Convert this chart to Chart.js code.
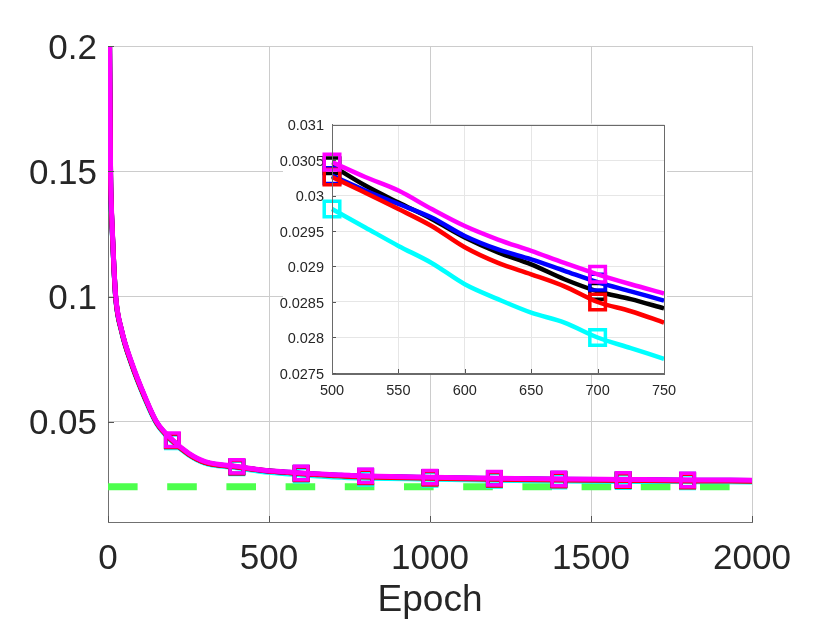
<!DOCTYPE html>
<html>
<head>
<meta charset="utf-8">
<script src="https://cdn.jsdelivr.net/npm/chart.js@4/dist/chart.umd.min.js"></script>
<style>
  html, body { margin: 0; padding: 0; background: #fff; }
  #wrap { position: relative; width: 830px; height: 623px; }
  #main { position: absolute; left: 0; top: 0; }
  #inset { position: absolute; left: 270px; top: 110px; }
</style>
</head>
<body>
<div id="wrap">
  <canvas id="main" width="830" height="623"></canvas>
  <canvas id="inset" width="410" height="295"></canvas>
</div>
<script>
const epochs = [0, 5, 8, 10, 13, 18, 24, 42, 74, 115, 151, 200, 250, 300, 400, 500, 525, 550, 575, 600, 625, 650, 675, 700, 725, 750, 800, 1000, 1200, 1400, 1600, 1800, 2000];

const magentaLoss = [0.26, 0.2, 0.15, 0.138, 0.128, 0.113, 0.1, 0.0868, 0.0735, 0.06, 0.05, 0.0428, 0.0375, 0.0342, 0.0322, 0.03047, 0.03026, 0.03007, 0.02981, 0.02957, 0.02938, 0.02922, 0.02905, 0.02889, 0.02875, 0.02862, 0.0284, 0.0279, 0.0275, 0.0272, 0.027, 0.0268, 0.0267];
const blueLoss    = [0.26, 0.199, 0.149, 0.137, 0.127, 0.1125, 0.0995, 0.0865, 0.073, 0.0596, 0.0497, 0.0425, 0.0372, 0.0339, 0.032, 0.03028, 0.03007, 0.02988, 0.02969, 0.02943, 0.02924, 0.0291, 0.02894, 0.02878, 0.02865, 0.02852, 0.0283, 0.0278, 0.0274, 0.0271, 0.0269, 0.0267, 0.0266];
const blackLoss   = [0.26, 0.199, 0.149, 0.137, 0.127, 0.1125, 0.0995, 0.0865, 0.073, 0.0596, 0.0497, 0.0425, 0.0372, 0.0339, 0.032, 0.03042, 0.03014, 0.0299, 0.02967, 0.02941, 0.0292, 0.02903, 0.02882, 0.02865, 0.02854, 0.02841, 0.0282, 0.0277, 0.0273, 0.027, 0.0268, 0.0266, 0.0265];
const redLoss     = [0.26, 0.199, 0.149, 0.137, 0.127, 0.1125, 0.0995, 0.0864, 0.0729, 0.0595, 0.0496, 0.0424, 0.0371, 0.0338, 0.0319, 0.03026, 0.03004, 0.02981, 0.02957, 0.02927, 0.02905, 0.02889, 0.02872, 0.0285, 0.02837, 0.02821, 0.028, 0.0275, 0.0271, 0.0268, 0.0266, 0.0264, 0.0263];
const cyanLoss    = [0.26, 0.198, 0.148, 0.136, 0.126, 0.112, 0.099, 0.086, 0.0725, 0.059, 0.0492, 0.042, 0.0368, 0.0335, 0.0316, 0.02981, 0.02955, 0.02929, 0.02905, 0.02875, 0.02854, 0.02835, 0.02821, 0.028, 0.02785, 0.0277, 0.0275, 0.0271, 0.0267, 0.0264, 0.0262, 0.0261, 0.026];

const targetLoss = 0.0241;          // green dashed reference level
const mainMarkers = [200, 400, 600, 800, 1000, 1200, 1400, 1600, 1800];
const insetMarkers = [500, 700];

const mainXTicks = [0, 500, 1000, 1500, 2000];
const mainYTicks = [0.05, 0.1, 0.15, 0.2];
const insetXTicks = [500, 550, 600, 650, 700, 750];
const insetYTicks = [0.0275, 0.028, 0.0285, 0.029, 0.0295, 0.03, 0.0305, 0.031];

const series = [
  { color: '#ff00ff', vals: magentaLoss },
  { color: '#ff0000', vals: redLoss },
  { color: '#0000ff', vals: blueLoss },
  { color: '#000000', vals: blackLoss },
  { color: '#00ffff', vals: cyanLoss }
];

const FONT = '"Liberation Sans", Arial, Helvetica, sans-serif';
const TXT = '#262626';

// small inward tick marks like matlab
const innerTicks = {
  id: 'innerTicks',
  afterDraw(chart, args, opts) {
    const { ctx, chartArea: a, scales } = chart;
    const len = opts.len || 6;
    ctx.save();
    ctx.strokeStyle = opts.color || '#555';
    ctx.lineWidth = 1;
    ctx.beginPath();
    scales.x.ticks.forEach(t => {
      const px = Math.round(scales.x.getPixelForValue(t.value)) + 0.5;
      ctx.moveTo(px, a.bottom); ctx.lineTo(px, a.bottom - len);
    });
    scales.y.ticks.forEach(t => {
      const py = Math.round(scales.y.getPixelForValue(t.value)) + 0.5;
      ctx.moveTo(a.left, py); ctx.lineTo(a.left + len, py);
    });
    ctx.stroke();
    if (opts.box) {
      ctx.strokeStyle = opts.box;
      ctx.strokeRect(Math.round(a.left) + 0.5, Math.round(a.top) + 0.5, Math.round(a.right - a.left), Math.round(a.bottom - a.top));
    }
    ctx.restore();
  }
};

// white panel behind the inset
const insetBg = {
  id: 'insetBg',
  beforeDraw(chart) {
    const { ctx, chartArea: a } = chart;
    ctx.save();
    ctx.fillStyle = '#fff';
    ctx.fillRect(13, a.top - 1, a.right + 3 - 13, a.bottom - a.top + 2);
    ctx.restore();
  }
};

function pts(vals, lo, hi) {
  const out = [];
  epochs.forEach((e, i) => { if (e >= lo && e <= hi) out.push({ x: e, y: vals[i] }); });
  return out;
}

// main chart
const mainSets = series.map(s => ({
  data: pts(s.vals, 0, 2000),
  borderColor: s.color,
  backgroundColor: 'transparent',
  borderWidth: 5,
  cubicInterpolationMode: 'monotone',
  pointStyle: 'rect',
  pointRadius: c => mainMarkers.includes(c.raw && c.raw.x) ? 9.5 : 0,
  pointBorderWidth: 3.5,
  pointBorderColor: s.color,
  pointBackgroundColor: 'transparent'
}));
mainSets.push({
  data: [{ x: 0, y: targetLoss }, { x: 2000, y: targetLoss }],
  borderColor: '#4dff4d',
  borderWidth: 7,
  borderDash: [29.6, 29.6],
  pointRadius: 0
});

new Chart(document.getElementById('main'), {
  type: 'line',
  data: { datasets: mainSets },
  options: {
    responsive: false,
    animation: false,
    events: [],
    layout: { padding: { top: 46, right: 78, left: 0, bottom: 0 } },
    plugins: { legend: { display: false }, tooltip: { enabled: false }, innerTicks: { len: 6, color: '#555' } },
    scales: {
      x: {
        type: 'linear', min: 0, max: 2000,
        afterBuildTicks: s => { s.ticks = mainXTicks.map(v => ({ value: v })); },
        afterFit: s => { s.height = 101; s.paddingLeft = 0; s.paddingRight = 0; },
        ticks: { callback: v => String(v), color: TXT, font: { family: FONT, size: 35 }, padding: 16, maxRotation: 0 },
        grid: { color: '#cccccc', drawTicks: false },
        border: { color: '#707070', width: 1 },
        title: { display: true, text: 'Epoch', color: TXT, font: { family: FONT, size: 37 }, padding: { top: 0, bottom: 0 } }
      },
      y: {
        type: 'linear', min: 0.01, max: 0.2,
        afterBuildTicks: s => { s.ticks = mainYTicks.map(v => ({ value: v })); },
        afterFit: s => { s.width = 108; s.paddingTop = 0; s.paddingBottom = 0; },
        ticks: { callback: v => String(v), color: TXT, font: { family: FONT, size: 35 }, padding: 11, labelOffset: 3 },
        grid: { color: '#cccccc', drawTicks: false },
        border: { color: '#707070', width: 1 }
      }
    }
  },
  plugins: [innerTicks]
});

// inset zoom 500-750
const insetSets = series.map(s => ({
  data: pts(s.vals, 500, 750),
  borderColor: s.color,
  backgroundColor: 'transparent',
  borderWidth: 4.5,
  cubicInterpolationMode: 'monotone',
  clip: false,
  pointStyle: 'rect',
  pointRadius: c => insetMarkers.includes(c.raw && c.raw.x) ? 11 : 0,
  pointBorderWidth: 3.5,
  pointBorderColor: s.color,
  pointBackgroundColor: 'transparent'
}));

new Chart(document.getElementById('inset'), {
  type: 'line',
  data: { datasets: insetSets },
  options: {
    responsive: false,
    animation: false,
    events: [],
    layout: { padding: { top: 14, right: 16, left: 0, bottom: 0 } },
    plugins: { legend: { display: false }, tooltip: { enabled: false }, innerTicks: { len: 4, color: '#555', box: '#6a6a6a' } },
    scales: {
      x: {
        type: 'linear', min: 500, max: 750,
        afterBuildTicks: s => { s.ticks = insetXTicks.map(v => ({ value: v })); },
        afterFit: s => { s.height = 32; s.paddingLeft = 0; s.paddingRight = 0; },
        ticks: { callback: v => String(v), color: TXT, font: { family: FONT, size: 14.5 }, padding: 9, maxRotation: 0 },
        grid: { color: '#e6e6e6', drawTicks: false },
        border: { color: '#6a6a6a', width: 1 }
      },
      y: {
        type: 'linear', min: 0.0275, max: 0.031,
        afterBuildTicks: s => { s.ticks = insetYTicks.map(v => ({ value: v })); },
        afterFit: s => { s.width = 62; s.paddingTop = 0; s.paddingBottom = 0; },
        ticks: { callback: v => String(v), color: TXT, font: { family: FONT, size: 14.5 }, padding: 8, labelOffset: 1.5 },
        grid: { color: '#e6e6e6', drawTicks: false },
        border: { color: '#6a6a6a', width: 1 }
      }
    }
  },
  plugins: [insetBg, innerTicks]
});
</script>
</body>
</html>
